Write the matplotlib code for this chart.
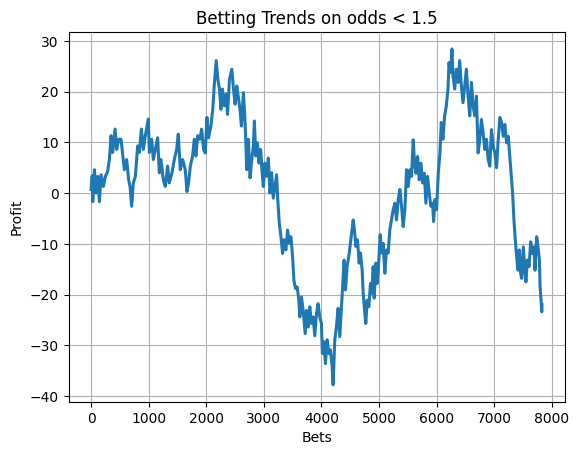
import matplotlib
matplotlib.use("Agg")
import matplotlib.pyplot as plt

bets = [0, 20, 29, 58, 87, 115, 145, 173, 214, 249, 289, 318, 347, 376, 416, 445,
        480, 520, 549, 578, 618, 653, 676, 705, 734, 769, 809, 838, 873, 908, 942,
        994, 1012, 1052, 1081, 1116, 1156, 1185, 1214, 1254, 1289, 1329, 1358, 1405,
        1445, 1486, 1514, 1549, 1590, 1636, 1665, 1694, 1723, 1763, 1792, 1821, 1850,
        1890, 1919, 1954, 1983, 2012, 2040, 2081, 2115, 2138, 2173, 2202, 2230, 2254,
        2282, 2311, 2346, 2369, 2403, 2444, 2473, 2501, 2530, 2559, 2588, 2611, 2645,
        2669, 2686, 2703, 2732, 2761, 2790, 2818, 2836, 2859, 2888, 2916, 2945, 2974,
        2991, 3020, 3049, 3078, 3107, 3135, 3164, 3193, 3222, 3239, 3268, 3297, 3326,
        3349, 3383, 3412, 3441, 3470, 3499, 3522, 3550, 3579, 3608, 3625, 3654, 3683,
        3718, 3741, 3769, 3798, 3827, 3856, 3885, 3914, 3942, 3971, 4000, 4017, 4041,
        4070, 4099, 4128, 4157, 4186, 4203, 4232, 4261, 4290, 4319, 4348, 4377, 4394,
        4417, 4446, 4475, 4504, 4533, 4551, 4574, 4597, 4626, 4655, 4678, 4707, 4725,
        4754, 4771, 4794, 4823, 4852, 4875, 4899, 4916, 4945, 4968, 4997, 5020, 5043,
        5072, 5101, 5130, 5159, 5188, 5217, 5246, 5275, 5304, 5333, 5362, 5391, 5420,
        5449, 5478, 5507, 5536, 5565, 5594, 5617, 5641, 5670, 5699, 5728, 5757, 5786,
        5814, 5843, 5872, 5901, 5930, 5948, 5971, 6000, 6029, 6058, 6081, 6110, 6140,
        6169, 6198, 6215, 6244, 6267, 6285, 6314, 6343, 6372, 6401, 6430, 6459, 6488,
        6517, 6547, 6576, 6605, 6634, 6663, 6692, 6721, 6750, 6779, 6808, 6837, 6866,
        6895, 6924, 6953, 6983, 7012, 7041, 7070, 7099, 7128, 7157, 7186, 7215, 7244,
        7262, 7285, 7302, 7320, 7343, 7366, 7390, 7413, 7436, 7459, 7477, 7506, 7535,
        7552, 7576, 7605, 7634, 7663, 7692, 7709, 7738, 7767, 7785, 7797, 7814, 7826,
        7830]

profit = [0.7, 3.4, -1.7, 4.6, 0, 3.3, -1.7, 3.6, 1.3, 3.3, 4.3, 6.6, 11.3, 8, 12.6, 8.6,
          10.6, 10.6, 7.6, 4.6, 6.6, 2.6, 1.3, -2.6, 2, 3.3, 9.3, 8, 12.6, 8.6, 11.3,
          14.6, 8, 10.6, 6.6, 8.6, 10.9, 4, 6.6, 2.6, 1.3, 5.3, 2, 4,
          6.6, 8.6, 11.6, 4.6, 6.6, 4.6, 0.3, 2, 5.3, 7.3, 10.6, 7.3, 11.3,
          10.6, 12.6, 8.6, 7.9, 14.9, 10.9, 13.2, 16.8, 21.1, 26.1, 22.4, 20.5, 16.5,
          20.5, 17.2, 19.5, 15.5, 22.4, 24.4, 20.5, 17.5, 21.1, 18.8, 16.2, 13.2, 19.8,
          15.2, 10.6, 4.6, 10.6, 3, 6.6, 9.2, 14.2, 7.3, 9.9, 5.9, 8.6, 3.6,
          1.3, 5.9, 3.3, 6.9, 0, 4, -1, 1.3, 3.6, -0.7, -5.9, -8.6, -11.9,
          -9.2, -11.2, -7.3, -9.9, -8.6, -12.5, -17.2, -18.8, -18.5, -21.1, -24.4, -20.5, -23.1,
          -27.7, -23.1, -26.4, -22.4, -25.7, -24.4, -28.1, -23.8, -21.8, -24.4, -25.7, -31.6, -29.3,
          -33.6, -28.9, -31.6, -30.9, -34.2, -37.8, -28.9, -26.3, -22.7, -28.3, -22.4, -16.4, -13.2,
          -19.1, -14.5, -12.5, -9.9, -7.2, -5.3, -7.2, -10.5, -9.2, -13.8, -11.8, -15.1, -19.7,
          -23.7, -25.7, -21.1, -22.4, -17.8, -19.7, -14.5, -20.7, -13.8, -17.8, -13.2, -8.2, -11.8,
          -9.9, -15.8, -11.2, -11.8, -7.2, -5.3, -3.3, -2, -5.3, -1.3, 0.7, -2.6, -6.6,
          -3.3, 4.6, 1.3, 4.6, 3.3, 10.5, 5.9, 3.9, 7.2, 2.6, 5.9, 2, 3.9,
          -2, 3.3, 0, -2.6, -2, -5.6, -1.3, -3.3, 3.9, 7.9, 13.9, 10.6, 15.2,
          17.2, 20.5, 25.7, 23.8, 28.4, 23.1, 20.5, 24.4, 21.8, 26.1, 21.1, 17.8, 21.1,
          24.4, 19.1, 15.2, 21.8, 17.2, 15.2, 19.1, 7.9, 10.6, 14.5, 11.9, 8.6, 10.6,
          6.6, 5.3, 12.5, 9.2, 7.9, 5, 10.6, 14.9, 13.9, 11.2, 13.5, 9.9, 11.2,
          8.6, 5.3, 2.6, 0, -5.3, -9.2, -12.5, -15.2, -11.2, -15.8, -16.8, -10.6, -15.8,
          -17.5, -13.2, -14.5, -9.6, -11.9, -10.6, -15.2, -8.6, -11.2, -13.2, -18.5, -21.1, -23.4,
          -22]

fig, ax = plt.subplots(figsize=(6.4, 4.8), dpi=100)
ax.plot(bets, profit, color="#1f77b4", linewidth=2.2)
ax.set_title("Betting Trends on odds < 1.5")
ax.set_xlabel("Bets")
ax.set_ylabel("Profit")
ax.grid(True)

plt.savefig("out.png", bbox_inches="tight")
